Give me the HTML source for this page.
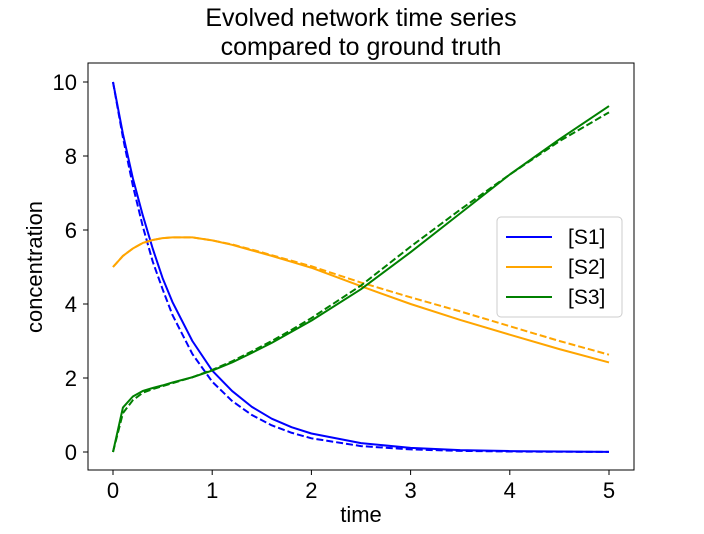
<!DOCTYPE html>
<html><head><meta charset="utf-8"><style>
body{margin:0;background:#fff;}
svg text{font-family:"Liberation Sans","DejaVu Sans",sans-serif;fill:#000;}
</style></head><body>
<svg id="chart" width="704" height="529" xmlns="http://www.w3.org/2000/svg">
<text x="361" y="26" font-size="25" text-anchor="middle">Evolved network time series</text>
<text x="361" y="55" font-size="25" text-anchor="middle">compared to ground truth</text>
<g id="plot"></g>
<rect x="88" y="63" width="546" height="407" fill="none" stroke="#000" stroke-width="1"/>
<text x="361" y="522" font-size="22" text-anchor="middle">time</text>
<text transform="translate(42,267) rotate(-90)" font-size="22" text-anchor="middle">concentration</text>
<g>
<rect x="497" y="217" width="125" height="100" rx="4" fill="#fff" stroke="#ccc"/>
<line x1="506" y1="237" x2="552" y2="237" stroke="blue" stroke-width="2"/>
<text x="568" y="244" font-size="21">[S1]</text>
<line x1="506" y1="267" x2="552" y2="267" stroke="orange" stroke-width="2"/>
<text x="568" y="274" font-size="21">[S2]</text>
<line x1="506" y1="297" x2="552" y2="297" stroke="green" stroke-width="2"/>
<text x="568" y="304" font-size="21">[S3]</text>
</g>
</svg>
<script>
const times=[0,0.1,0.2,0.3,0.4,0.5,0.6,0.8,1.0,1.2,1.4,1.6,1.8,2.0,2.5,3.0,3.5,4.0,4.5,5.0];
const s1Evolved=[10,8.6,7.4,6.4,5.5,4.7,4.05,3.0,2.2,1.65,1.22,0.9,0.67,0.5,0.24,0.11,0.05,0.025,0.012,0.005];
const s1Truth=[10,8.5,7.2,6.1,5.15,4.4,3.7,2.65,1.9,1.38,1.0,0.72,0.52,0.37,0.16,0.07,0.03,0.013,0.006,0.003];
const s2Evolved=[5.0,5.3,5.5,5.65,5.73,5.78,5.8,5.8,5.72,5.6,5.45,5.3,5.14,4.98,4.48,4.0,3.57,3.17,2.78,2.42];
const s2Truth=[5.0,5.3,5.5,5.65,5.73,5.78,5.8,5.8,5.72,5.61,5.47,5.32,5.17,5.02,4.58,4.18,3.8,3.4,3.0,2.63];
const s3Evolved=[0,1.2,1.5,1.65,1.73,1.8,1.88,2.02,2.2,2.42,2.68,2.95,3.25,3.55,4.4,5.4,6.45,7.5,8.45,9.35];
const s3Truth=[0,1.05,1.4,1.6,1.7,1.78,1.86,2.02,2.22,2.45,2.72,3.0,3.3,3.62,4.5,5.55,6.55,7.5,8.4,9.18];
const xTicks=[0,1,2,3,4,5];
const yTicks=[0,2,4,6,8,10];
const X=v=>113+v*99.2, Y=v=>452-v*37;
const NS="http://www.w3.org/2000/svg";
const g=document.getElementById('plot');
function mk(t,a){const e=document.createElementNS(NS,t);for(const k in a)e.setAttribute(k,a[k]);return e;}
xTicks.forEach(t=>{
  const l=mk('line',{x1:X(t),x2:X(t),y1:470,y2:475,stroke:'#000'});
  
  
  g.appendChild(l);
  const tx=mk('text',{x:X(t),y:498,'font-size':22,'text-anchor':'middle'});tx.textContent=t;
  
  
  g.appendChild(tx);
});
yTicks.forEach(t=>{
  const l=mk('line',{x1:83,x2:88,y1:Y(t),y2:Y(t),stroke:'#000'});
  
  
  g.appendChild(l);
  const tx=mk('text',{x:77,y:Y(t)+8,'font-size':22,'text-anchor':'end'});tx.textContent=t;
  
  
  g.appendChild(tx);
});
function line(vals,color,dash,name){
  const p=mk('polyline',{points:times.map((t,i)=>X(t)+','+Y(vals[i])).join(' '),fill:'none',stroke:color,'stroke-width':2,'stroke-linejoin':'round'});
  if(dash)p.setAttribute('stroke-dasharray','7,3');
  
  
  g.appendChild(p);
}
line(s1Evolved,'blue',false,'s1-evolved-line');
line(s1Truth,'blue',true,'s1-truth-line');
line(s2Evolved,'orange',false,'s2-evolved-line');
line(s2Truth,'orange',true,'s2-truth-line');
line(s3Evolved,'green',false,'s3-evolved-line');
line(s3Truth,'green',true,'s3-truth-line');
</script>
</body></html>
